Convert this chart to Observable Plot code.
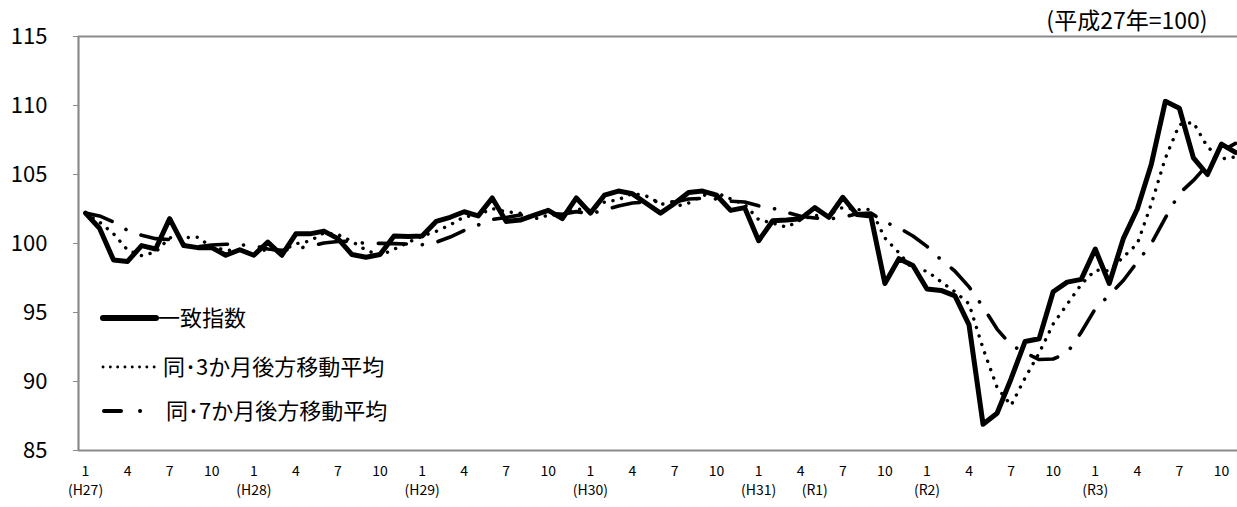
<!DOCTYPE html>
<html>
<head>
<meta charset="utf-8">
<script src="https://cdn.jsdelivr.net/npm/d3@7"></script>
<script src="https://cdn.jsdelivr.net/npm/@observablehq/plot@0.6"></script>
<style>
  html, body { margin: 0; padding: 0; background: #fff; overflow: hidden; }
  #wrap { position: relative; width: 1237px; height: 507px; font-family: "Noto Sans CJK JP", "Noto Sans", sans-serif; }
  #legend { position: absolute; left: 0; top: 0; pointer-events: none; }
</style>
</head>
<body>
<div id="wrap"><div id="chart"></div><svg id="legend" width="1237" height="507"></svg></div>
<script>
// Months: Jan 2015 (H27) ... Nov 2021 (R3), index 0..82
const coincident = [
  102.2,101.1,98.8,98.7,99.85,99.6,101.8,99.85,99.7,99.7,99.15,99.55,
  99.15,100.1,99.15,100.7,100.7,100.9,100.35,99.2,99.0,99.2,100.55,100.5,
  100.55,101.6,101.9,102.3,102.0,103.3,101.6,101.7,102.05,102.4,101.8,103.3,
  102.2,103.5,103.8,103.6,102.9,102.2,102.9,103.7,103.8,103.5,102.4,102.6,
  100.2,101.65,101.7,101.8,102.6,101.9,103.35,102.1,102.0,97.1,98.9,98.4,
  96.7,96.6,96.2,94.1,86.9,87.7,90.2,92.9,93.1,96.5,97.2,97.4,
  99.6,97.1,100.35,102.5,105.75,110.3,109.8,106.2,105.0,107.2,106.6
];
const ma3 = [
  102.2,101.55,100.7,99.53,99.12,99.38,100.42,100.42,100.45,99.75,99.52,99.47,
  99.28,99.6,99.47,99.98,100.18,100.77,100.65,100.15,99.52,99.13,99.58,100.08,
  100.53,100.88,101.35,101.93,102.07,102.53,102.3,102.2,101.78,102.05,102.08,102.5,
  102.43,103.0,103.17,103.63,103.43,102.9,102.67,102.93,103.47,103.67,103.23,102.83,
  101.73,101.48,101.18,101.72,102.03,102.1,102.62,102.45,102.48,100.4,99.33,98.13,
  98.0,97.23,96.5,95.63,92.4,89.57,88.27,90.27,92.07,94.17,95.6,97.03,
  98.07,98.03,99.02,99.98,102.87,106.18,108.62,108.77,107.0,106.13,106.27
];
const ma7 = [
  102.2,102.0,101.55,100.95,100.6,100.35,100.29,99.96,99.76,99.89,99.95,99.91,
  99.84,99.6,99.5,99.64,99.79,100.04,100.15,100.16,100.0,100.01,99.99,99.96,
  99.91,100.09,100.47,100.94,101.34,101.74,101.89,102.06,102.12,102.19,102.12,102.31,
  102.15,102.42,102.72,102.94,103.01,103.07,103.01,103.23,103.27,103.23,103.06,103.01,
  102.73,102.55,102.26,101.98,101.85,101.78,101.89,102.16,102.21,101.55,101.14,100.54,
  99.79,98.83,97.99,96.86,95.4,93.8,92.63,92.09,91.59,91.63,92.07,93.57,
  95.27,96.26,97.32,98.66,99.99,101.86,103.63,104.57,105.7,106.68,107.26
];
const monthTickIdx = d3.range(0, 83, 3);
const monthTickLabels = monthTickIdx.map(i => String((i % 12) + 1));
const eraIdx = [0, 12, 24, 36, 48, 52, 60, 72];
const eraLabels = ["(H27)", "(H28)", "(H29)", "(H30)", "(H31)", "(R1)", "(R2)", "(R3)"];
const yTicks = [85, 90, 95, 100, 105, 110, 115];
const unitLabel = "(平成27年=100)";
const seriesNames = ["一致指数", "同･3か月後方移動平均", "同･7か月後方移動平均"];

const rows = (arr) => arr.map((v, i) => ({i, v}));
const frameColor = "#8a8a8a";
const font = "Noto Sans CJK JP";

const chart = Plot.plot({
  width: 1237,
  height: 507,
  marginLeft: 78,
  marginRight: 0,
  marginTop: 36,
  marginBottom: 57,
  style: {fontFamily: font, background: "#fff", color: "#000"},
  x: {domain: [-0.5, 82.5], range: [78, 1242], axis: null},
  y: {domain: [85, 115]},
  marks: [
    Plot.axisY({ticks: yTicks, tickSize: 5, tickPadding: 26, fontSize: 22, stroke: frameColor, fill: "#000", label: null}),
    Plot.ruleY([85, 115], {stroke: frameColor, strokeWidth: 2.2}),
    Plot.ruleX([-0.5], {stroke: frameColor, strokeWidth: 2.2}),
    Plot.line(rows(coincident), {x: "i", y: "v", stroke: "#000", strokeWidth: 5, strokeLinejoin: "round", strokeLinecap: "round"}),
    Plot.line(rows(ma3), {x: "i", y: "v", stroke: "#000", strokeWidth: 3.4, strokeLinecap: "round", strokeDasharray: "0.1,8.8"}),
    Plot.line(rows(ma7), {x: "i", y: "v", stroke: "#000", strokeWidth: 3.6, strokeLinecap: "round", strokeDasharray: "28,16,0.1,16"}),
    Plot.text(monthTickIdx, {x: d => d, text: (d, k) => monthTickLabels[k], frameAnchor: "bottom", dy: 21, lineAnchor: "middle", fontSize: 14, fill: "#000"}),
    Plot.text(eraIdx, {x: d => d, text: (d, k) => eraLabels[k], frameAnchor: "bottom", dy: 40, lineAnchor: "middle", fontSize: 14, fill: "#000"}),
    Plot.text([unitLabel], {text: d => d, frameAnchor: "top-right", dx: -30, dy: -15, textAnchor: "end", lineAnchor: "middle", fontSize: 23, fill: "#000"})
  ]
});
document.getElementById("chart").appendChild(chart);

// In-plot legend (layout only)
const lg = d3.select("#legend");
const rowsY = [318, 367, 411];
lg.append("line").attr("x1", 103).attr("x2", 156).attr("y1", rowsY[0]).attr("y2", rowsY[0])
  .attr("stroke", "#000").attr("stroke-width", 6).attr("stroke-linecap", "round");
lg.append("line").attr("x1", 103).attr("x2", 161).attr("y1", rowsY[1]).attr("y2", rowsY[1])
  .attr("stroke", "#000").attr("stroke-width", 2.8).attr("stroke-linecap", "round").attr("stroke-dasharray", "0.1,7.2");
lg.append("line").attr("x1", 104).attr("x2", 142).attr("y1", rowsY[2]).attr("y2", rowsY[2])
  .attr("stroke", "#000").attr("stroke-width", 4).attr("stroke-linecap", "round").attr("stroke-dasharray", "17,19,0.1,100");
const textX = [158, 163, 166];
seriesNames.forEach((name, k) => {
  lg.append("text").attr("x", textX[k]).attr("y", rowsY[k]).attr("dy", "0.35em")
    .attr("font-family", font).attr("font-size", 22).attr("fill", "#000").text(name);
});
</script>
</body>
</html>
